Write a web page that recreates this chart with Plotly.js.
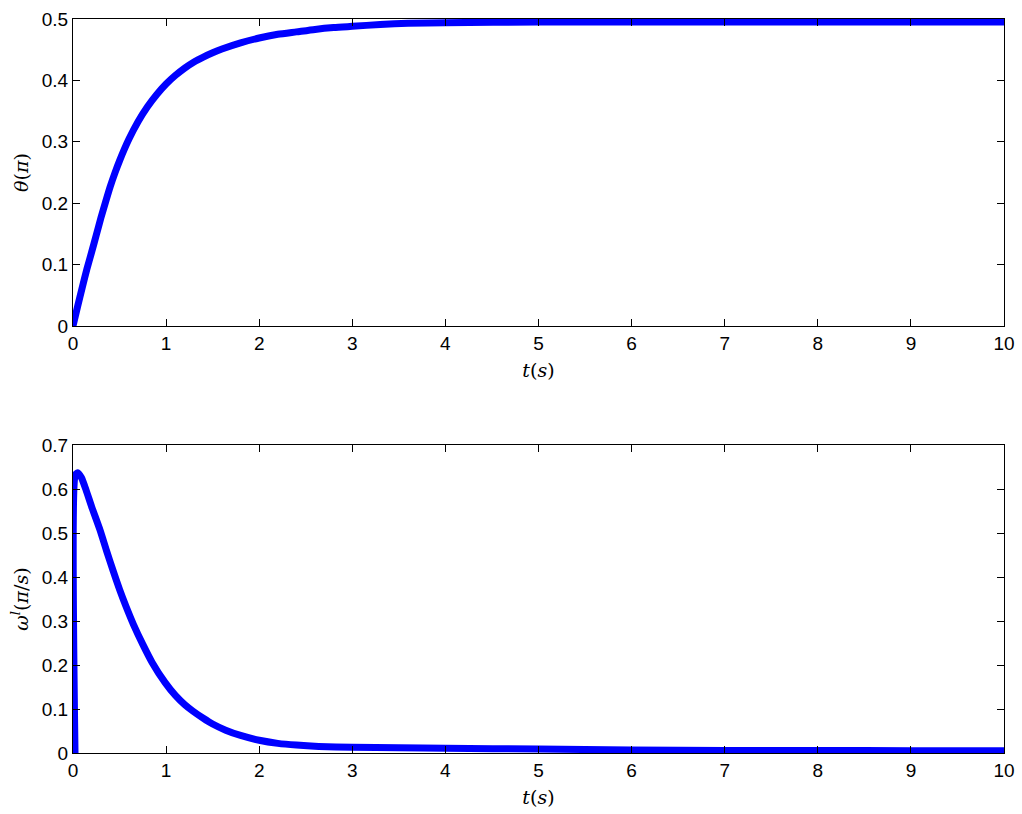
<!DOCTYPE html>
<html>
<head>
<meta charset="utf-8">
<script src="https://cdn.plot.ly/plotly-3.0.1.min.js"></script>
<style>
  body { margin: 0; background: #fff; }
  #chart { width: 1022px; height: 814px; }
</style>
</head>
<body>
<div id="chart"></div>
<script>
  // angle response
  var tTheta = [0, 0.05, 0.1, 0.15, 0.2, 0.25, 0.3, 0.35, 0.4, 0.45, 0.5, 0.6, 0.7, 0.8, 0.9, 1.0, 1.1, 1.2, 1.3, 1.4, 1.5, 1.6, 1.8, 2.0, 2.2, 2.4, 2.6, 2.8, 3.0, 3.3, 3.6, 4, 5, 6, 7, 8, 9, 10];
  var theta = [0, 0.032, 0.063, 0.093, 0.12, 0.148, 0.176, 0.202, 0.227, 0.249, 0.269, 0.304, 0.333, 0.357, 0.377, 0.394, 0.408, 0.42, 0.43, 0.438, 0.445, 0.451, 0.461, 0.469, 0.475, 0.479, 0.483, 0.486, 0.488, 0.491, 0.493, 0.494, 0.495, 0.495, 0.495, 0.495, 0.495, 0.495];

  // angular velocity, lower panel
  var tOmega = [0.022, 0.025, 0.05, 0.09, 0.14, 0.2, 0.29, 0.36, 0.43, 0.5, 0.57, 0.65, 0.75, 0.85, 0.99, 1.1, 1.2, 1.29, 1.4, 1.5, 1.64, 1.8, 2.0, 2.2, 2.4, 2.64, 3, 3.5, 4, 5, 6, 7, 8, 9, 10];
  var omega = [0, 0.632, 0.637, 0.626, 0.598, 0.56, 0.507, 0.46, 0.415, 0.372, 0.333, 0.292, 0.247, 0.206, 0.16, 0.131, 0.11, 0.095, 0.079, 0.066, 0.052, 0.04, 0.029, 0.022, 0.018, 0.015, 0.013, 0.012, 0.011, 0.009, 0.007, 0.006, 0.006, 0.005, 0.005];

  var xTicks = [0, 1, 2, 3, 4, 5, 6, 7, 8, 9, 10];

  var tickFont = {family: 'Liberation Sans, Arial, sans-serif', size: 19, color: '#000'};
  var titleFont = {family: 'DejaVu Serif, Liberation Serif, serif', size: 19, color: '#000'};

  function xAxis(anchor) {
    return {
      domain: [0.0714, 0.9824],
      anchor: anchor,
      range: [0, 10],
      tickvals: xTicks,
      ticks: 'inside', ticklen: 7, tickcolor: '#000',
      showline: true, linecolor: '#000', linewidth: 1, mirror: 'ticks',
      showgrid: false, zeroline: false,
      tickfont: tickFont,
      title: {text: '<i>t</i>(<i>s</i>)', font: titleFont, standoff: 10}
    };
  }

  function yAxis(anchor, dom, top, dtick, label) {
    return {
      domain: dom,
      anchor: anchor,
      range: [0, top],
      dtick: dtick,
      ticks: 'inside', ticklen: 7, tickcolor: '#000',
      showline: true, linecolor: '#000', linewidth: 1, mirror: 'ticks',
      showgrid: false, zeroline: false,
      tickfont: tickFont,
      title: {text: label, font: titleFont, standoff: 8}
    };
  }

  var trace1 = {
    x: tTheta, y: theta,
    xaxis: 'x', yaxis: 'y',
    mode: 'lines',
    line: {color: '#0000ff', width: 7, shape: 'spline', smoothing: 0.6}
  };
  var trace2 = {
    x: tOmega, y: omega,
    xaxis: 'x2', yaxis: 'y2',
    mode: 'lines',
    line: {color: '#0000ff', width: 7, shape: 'spline', smoothing: 0.6}
  };

  var layout = {
    width: 1022, height: 814,
    margin: {l: 0, r: 0, t: 0, b: 0},
    paper_bgcolor: '#fff', plot_bgcolor: '#fff',
    showlegend: false,
    xaxis: xAxis('y'),
    yaxis: yAxis('x', [0.5995, 0.9767], 0.5, 0.1, '<i>θ</i>(<i>π</i>)'),
    xaxis2: xAxis('y2'),
    yaxis2: yAxis('x2', [0.0749, 0.4533], 0.7, 0.1, '<i>ω<sup>l</sup></i>(<i>π</i>/<i>s</i>)')
  };

  Plotly.newPlot('chart', [trace1, trace2], layout, {displayModeBar: false, staticPlot: true});
</script>
</body>
</html>
